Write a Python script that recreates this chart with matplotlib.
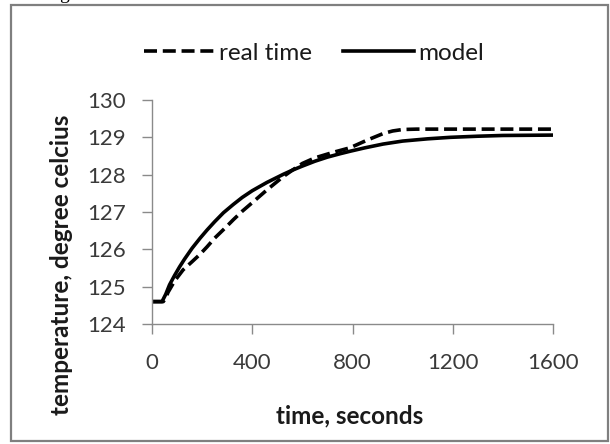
import matplotlib
matplotlib.use("Agg")
import matplotlib.pyplot as plt
from matplotlib.patches import Rectangle

# data
t_real = [0, 45, 55, 64, 90, 124, 160, 192, 220, 250, 290, 324, 360, 400, 460, 524, 560, 600, 650, 724,
          790, 860, 922, 960, 1000, 1057, 1200, 1400, 1600]
T_real = [124.6, 124.6, 124.7, 124.85, 125.15, 125.45, 125.67, 125.87, 126.07, 126.3, 126.56, 126.79, 127.02,
          127.25, 127.6, 127.95, 128.12, 128.3, 128.45, 128.6, 128.72, 128.93, 129.1, 129.17, 129.21, 129.22,
          129.22, 129.22, 129.22]
t_model = [0, 40, 55, 70, 90, 110, 130, 160, 192, 220, 250, 285, 324, 360, 400, 458, 524, 560, 600, 650, 700,
           750, 792, 850, 922, 1000, 1100, 1190, 1300, 1400, 1600]
T_model = [124.6, 124.6, 124.8, 125.05, 125.3, 125.53, 125.74, 126.03, 126.3, 126.52, 126.74, 126.98, 127.2,
           127.39, 127.57, 127.79, 128.01, 128.12, 128.23, 128.36, 128.47, 128.56, 128.63, 128.72, 128.82, 128.9,
           128.96, 129.0, 129.03, 129.05, 129.06]
x_ticks = [0, 400, 800, 1200, 1600]
y_ticks = [124, 125, 126, 127, 128, 129, 130]

W, H = 610, 444
fig = plt.figure(figsize=(W / 100, H / 100), dpi=100)
fig.patch.set_facecolor("white")

font = "Lato"
ax = fig.add_axes([152 / W, 1 - 324 / H, (553 - 152) / W, (324 - 100) / H])
ax.plot(t_real, T_real, color="black", lw=2.6, linestyle=(0, (3.6, 1.6)), label="real time")
ax.plot(t_model, T_model, color="black", lw=2.6, label="model")
ax.set_xlim(0, 1600)
ax.set_ylim(124, 130)
ax.set_xticks(x_ticks)
ax.set_yticks(y_ticks)
for s in ["top", "right"]:
    ax.spines[s].set_visible(False)
for s in ["left", "bottom"]:
    ax.spines[s].set_color("#8a8a8a")
    ax.spines[s].set_linewidth(1.0)
ax.tick_params(axis="both", colors="#8a8a8a", length=7, width=1.0, direction="out",
               labelcolor="#3a3a3a", labelsize=16)
ax.tick_params(axis="x", pad=14)
ax.tick_params(axis="y", pad=12)
for lab in ax.get_xticklabels() + ax.get_yticklabels():
    lab.set_fontfamily(font)

fig.text(350 / W, 1 - 416 / H, "time, seconds", ha="center", va="center",
         fontsize=17.5, fontweight="bold", family=font, color="#1a1a1a")
fig.text(62 / W, 1 - 265 / H, "temperature, degree celcius", ha="center", va="center",
         rotation=90, fontsize=17.5, fontweight="bold", family=font, color="#1a1a1a")

leg = fig.legend(loc="center", bbox_to_anchor=(314 / W, 1 - 53 / H), ncol=2, frameon=False,
                 handlelength=2.9, handletextpad=0.16, columnspacing=1.3,
                 prop={"family": font, "size": 17.5})
for t in leg.get_texts():
    t.set_color("#1a1a1a")

fig.patches.append(Rectangle((11 / W, 3 / H), (608 - 11) / W, (441 - 5) / H,
                             transform=fig.transFigure, fill=False,
                             edgecolor="#7f7f7f", lw=1.6))
fig.text(64 / W, 1 - 3 / H, "g", ha="center", va="bottom", fontsize=14,
         family="Liberation Serif", color="black")

fig.savefig("out.png", dpi=100)
